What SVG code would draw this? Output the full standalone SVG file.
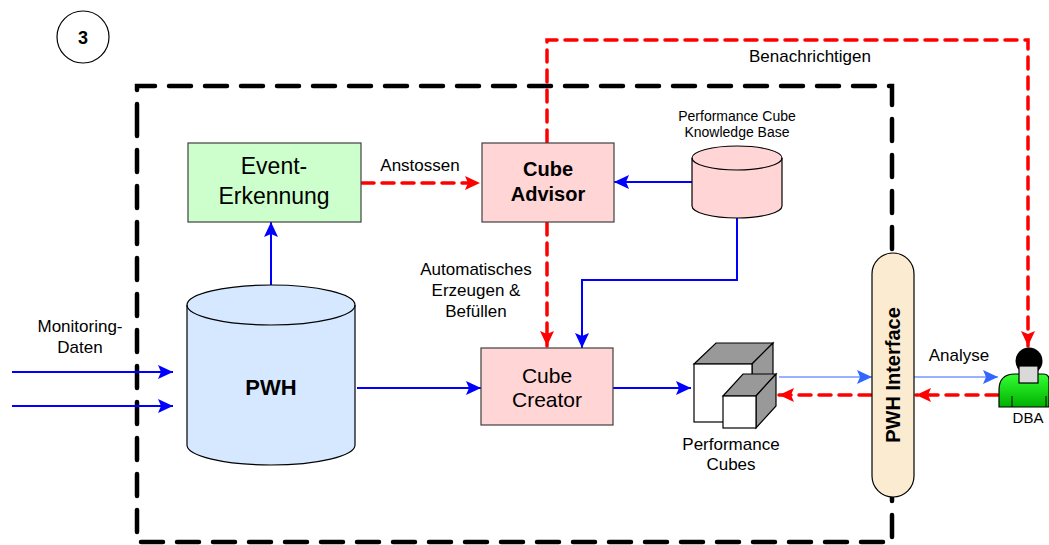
<svg xmlns="http://www.w3.org/2000/svg" width="1049" height="545" viewBox="0 0 1049 545">
  <defs>
    <marker id="arrowBlue" markerUnits="userSpaceOnUse" markerWidth="16" markerHeight="14" refX="15" refY="7" orient="auto">
      <path d="M0,0 L15,7 L0,14 L3,7 Z" fill="#0000FF"/>
    </marker>
    <marker id="arrowLight" markerUnits="userSpaceOnUse" markerWidth="16" markerHeight="14" refX="15" refY="7" orient="auto">
      <path d="M0,0 L15,7 L0,14 L3,7 Z" fill="#3366FF"/>
    </marker>
    <marker id="arrowRed" markerUnits="userSpaceOnUse" markerWidth="16" markerHeight="14" refX="15" refY="7" orient="auto">
      <path d="M0,0 L15,7 L0,14 L3,7 Z" fill="#FF0000"/>
    </marker>
    <linearGradient id="dbaBody" x1="0" y1="0" x2="0" y2="1">
      <stop offset="0" stop-color="#33FF33"/>
      <stop offset="1" stop-color="#00B000"/>
    </linearGradient>
  </defs>
  <style>
    text { font-family: "Liberation Sans", Arial, sans-serif; fill: #000; }
    .box { stroke: #404040; stroke-width: 1.2; }
    .outline { stroke: #000; stroke-width: 1.2; }
    .blue { fill: none; stroke: #0000FF; stroke-width: 2; }
    .light { fill: none; stroke: #3366FF; stroke-width: 1.2; }
    .red { fill: none; stroke: #FF0000; stroke-width: 3.5; stroke-dasharray: 12 8; stroke-linecap: round; }
    .frame { fill: none; stroke: #000; stroke-width: 4.5; stroke-dasharray: 22 14; stroke-linecap: round; }
    .lbl { font-size: 17px; }
  </style>

  <rect width="1049" height="545" fill="#FFFFFF"/>

  <!-- step badge -->
  <g id="step-badge">
    <circle cx="83" cy="37" r="26" fill="#FFFFFF" stroke="#000" stroke-width="1.2"/>
    <text x="83" y="43.5" text-anchor="middle" font-size="18" font-weight="bold">3</text>
  </g>

  <!-- system boundary -->
  <g id="system-frame">
    <path class="frame" d="M137,126 L137,86 L892,86 L892,542 L137,542 Z"/>
  </g>

  <!-- connectors -->
  <g id="connectors">
    <!-- monitoring input -->
    <line class="blue" x1="12" y1="372" x2="173" y2="372" marker-end="url(#arrowBlue)"/>
    <line class="blue" x1="12" y1="406" x2="173" y2="406" marker-end="url(#arrowBlue)"/>
    <!-- PWH to event detection -->
    <line class="blue" x1="271" y1="285" x2="271" y2="222" marker-end="url(#arrowBlue)"/>
    <!-- PWH to cube creator -->
    <line class="blue" x1="357" y1="388" x2="481" y2="388" marker-end="url(#arrowBlue)"/>
    <!-- knowledge base to advisor -->
    <line class="blue" x1="692" y1="182" x2="614" y2="182" marker-end="url(#arrowBlue)"/>
    <!-- knowledge base to creator -->
    <path class="blue" d="M737,218 L737,280 L582,280 L582,348" marker-end="url(#arrowBlue)"/>
    <!-- creator to cubes -->
    <line class="blue" x1="613" y1="388" x2="691" y2="388" marker-end="url(#arrowBlue)"/>
    <!-- cubes to interface, interface to DBA -->
    <line class="light" x1="779" y1="377" x2="872" y2="377" marker-end="url(#arrowLight)"/>
    <line class="light" x1="914" y1="377" x2="998" y2="377" marker-end="url(#arrowLight)"/>

    <!-- trigger -->
    <line class="red" x1="362" y1="183" x2="480" y2="183" marker-end="url(#arrowRed)"/>
    <!-- advisor to creator -->
    <line class="red" x1="547" y1="223" x2="547" y2="346" marker-end="url(#arrowRed)"/>
    <!-- notification -->
    <path class="red" d="M547,142 L547,40 L1028,40 L1028,346" marker-end="url(#arrowRed)"/>
    <!-- DBA requests -->
    <line class="red" x1="998" y1="395" x2="916" y2="395" marker-end="url(#arrowRed)"/>
    <line class="red" x1="871" y1="395" x2="779" y2="395" marker-end="url(#arrowRed)"/>

    <text class="lbl" x="810" y="62" text-anchor="middle">Benachrichtigen</text>
    <text class="lbl" x="420" y="171" text-anchor="middle">Anstossen</text>
    <text class="lbl" x="476" y="275" text-anchor="middle">Automatisches</text>
    <text class="lbl" x="476" y="296" text-anchor="middle">Erzeugen &amp;</text>
    <text class="lbl" x="476" y="317" text-anchor="middle">Befüllen</text>
    <text class="lbl" x="80" y="332" text-anchor="middle">Monitoring-</text>
    <text class="lbl" x="80" y="353" text-anchor="middle">Daten</text>
    <text class="lbl" x="959" y="361" text-anchor="middle">Analyse</text>
  </g>

  <!-- event detection -->
  <g id="event-erkennung">
    <rect class="box" x="188" y="143" width="173" height="79" fill="#CCFFCC"/>
    <text x="274" y="174" text-anchor="middle" font-size="23">Event-</text>
    <text x="274" y="204" text-anchor="middle" font-size="23">Erkennung</text>
  </g>

  <!-- cube advisor -->
  <g id="cube-advisor">
    <rect class="box" x="482" y="143" width="132" height="79" fill="#FFD5D5"/>
    <text x="548" y="176" text-anchor="middle" font-size="20" font-weight="bold">Cube</text>
    <text x="548" y="201" text-anchor="middle" font-size="20" font-weight="bold">Advisor</text>
  </g>

  <!-- knowledge base -->
  <g id="knowledge-base">
    <path class="outline" d="M692,158 L692,206 A45,12 0 0 0 782,206 L782,158 A45,12 0 0 0 692,158 Z" fill="#FFD5D5"/>
    <path class="outline" d="M692,158 A45,12 0 0 0 782,158" fill="none"/>
    <text x="737" y="121" text-anchor="middle" font-size="14">Performance Cube</text>
    <text x="737" y="137" text-anchor="middle" font-size="14">Knowledge Base</text>
  </g>

  <!-- PWH store -->
  <g id="pwh">
    <path class="outline" d="M187,305 L187,445 A84,20 0 0 0 355,445 L355,305 A84,20 0 0 0 187,305 Z" fill="#D6E8FF"/>
    <path class="outline" d="M187,305 A84,20 0 0 0 355,305" fill="none"/>
    <text x="271" y="395" text-anchor="middle" font-size="22" font-weight="bold">PWH</text>
  </g>

  <!-- cube creator -->
  <g id="cube-creator">
    <rect class="box" x="481" y="348" width="132" height="77" fill="#FFD5D5"/>
    <text x="547" y="383" text-anchor="middle" font-size="21">Cube</text>
    <text x="547" y="407" text-anchor="middle" font-size="21">Creator</text>
  </g>

  <!-- performance cubes -->
  <g id="performance-cubes">
    <polygon class="outline" points="694,364 716,343 773,343 752,364" fill="#999999"/>
    <polygon class="outline" points="752,364 773,343 773,401 752,422" fill="#999999"/>
    <rect class="outline" x="694" y="364" width="58" height="58" fill="#FFFFFF"/>
    <polygon class="outline" points="723,396 743,374 776,374 756,396" fill="#999999"/>
    <polygon class="outline" points="756,396 776,374 776,406 756,428" fill="#999999"/>
    <rect class="outline" x="723" y="396" width="33" height="32" fill="#FFFFFF"/>
    <text x="731" y="450" text-anchor="middle" font-size="17">Performance</text>
    <text x="731" y="470" text-anchor="middle" font-size="17">Cubes</text>
  </g>

  <!-- PWH interface -->
  <g id="pwh-interface">
    <rect class="outline" x="872" y="253" width="42" height="244" rx="21" ry="21" fill="#FBEBD0"/>
    <text transform="translate(900,375) rotate(-90)" text-anchor="middle" font-size="20" font-weight="bold">PWH Interface</text>
  </g>

  <!-- DBA -->
  <g id="dba">
    <path class="outline" d="M999,407 L999,390 Q999,374 1015,374 L1043,374 Q1049,374 1049,380 L1049,407 Z" fill="url(#dbaBody)"/>
    <line x1="1012" y1="396" x2="1012" y2="407" stroke="#000" stroke-width="1"/>
    <line x1="1046" y1="396" x2="1046" y2="407" stroke="#000" stroke-width="1"/>
    <circle cx="1029" cy="361" r="13.5" fill="#000"/>
    <rect class="outline" x="1019" y="366" width="19" height="17" fill="#D9D9D9"/>
    <text x="1028" y="423" text-anchor="middle" font-size="15">DBA</text>
  </g>
</svg>
